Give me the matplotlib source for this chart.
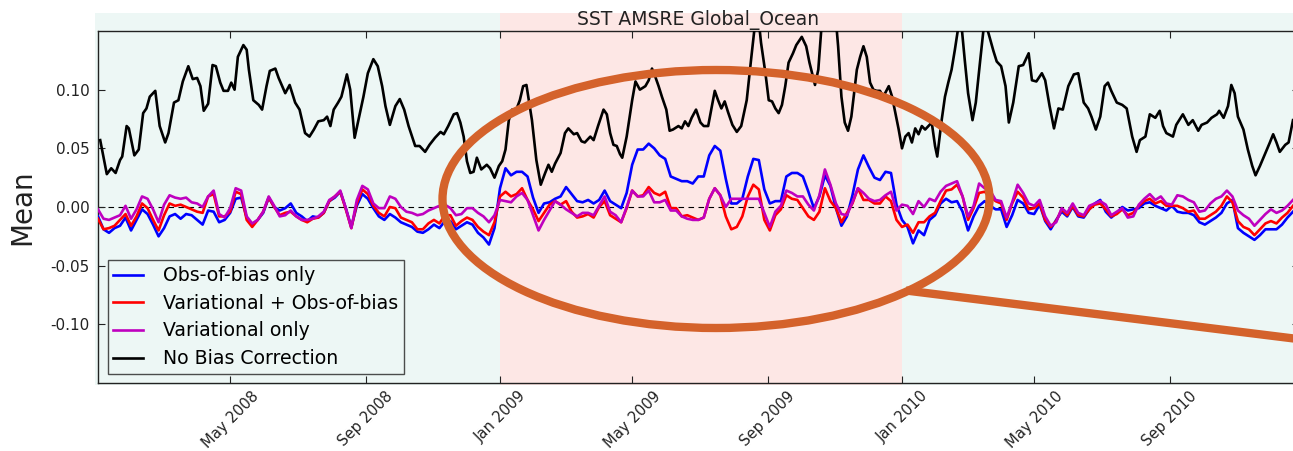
import matplotlib
matplotlib.use('Agg')
import matplotlib.pyplot as plt
import matplotlib.dates as mdates
from matplotlib.patches import Ellipse
from matplotlib.lines import Line2D
import numpy as np
import pandas as pd

# daily means, sampled every 5 days from 2008-01-02
start = pd.Timestamp('2008-01-02')

obs_bias = [
    -0.008, -0.019, -0.022, -0.018, -0.016, -0.009, -0.020, -0.011, -0.002, -0.006,
    -0.015, -0.025, -0.018, -0.008, -0.006, -0.010, -0.006, -0.007, -0.011, -0.015,
    -0.003, -0.004, -0.013, -0.011, -0.005, 0.007, 0.008, -0.009, -0.015, -0.011,
    -0.005, 0.008, 0.000, -0.003, -0.001, 0.003, -0.005, -0.008, -0.012, -0.008,
    -0.009, -0.005, 0.005, 0.008, 0.013, -0.001, -0.017, 0.001, 0.011, 0.007,
    -0.001, -0.008, -0.011, -0.006, -0.009, -0.013, -0.015, -0.017, -0.021, -0.022,
    -0.019, -0.015, -0.018, -0.012, -0.012, -0.019, -0.016, -0.013, -0.015, -0.022,
    -0.026, -0.032, -0.018, 0.016, 0.033, 0.027, 0.030,
    0.030, 0.026, 0.008, -0.005, 0.003, 0.004, 0.007, 0.009, 0.017, 0.011, 0.005, 0.004, 0.006,
    0.003, 0.006, 0.014, 0.005, 0.002, -0.001, 0.012, 0.036, 0.049, 0.049,
    0.054, 0.050, 0.044, 0.041, 0.026, 0.024, 0.022, 0.022, 0.020, 0.026,
    0.026, 0.044, 0.052, 0.048, 0.024, 0.003, 0.003, 0.007, 0.026, 0.041,
    0.040, 0.015, 0.003, 0.005, 0.005, 0.026,
    0.029, 0.029, 0.026, 0.013, -0.001, 0.009, 0.027, 0.018, -0.001, -0.016,
    -0.008, 0.010, 0.032, 0.044, 0.034, 0.025, 0.023, 0.030, 0.029, 0.002,
    -0.011, -0.017, -0.031, -0.020, -0.024, -0.011, -0.007, 0.003, 0.007, 0.004,
    0.005, -0.004, -0.020,
    -0.008, 0.001, 0.005, 0.001, -0.002, -0.002, -0.017, -0.007, 0.006, 0.003,
    -0.005, -0.006, 0.002, -0.012, -0.019, -0.011, -0.004, -0.008, 0.000, -0.008,
    -0.009, -0.002, 0.003, 0.006, -0.004, -0.009, -0.005, 0.000, -0.003, -0.002,
    -0.001, 0.003, 0.004, 0.001,
    -0.001, -0.003, 0.001, -0.004, -0.005, -0.005, -0.007, -0.013, -0.015, -0.012,
    -0.009, -0.005, 0.003, 0.006, -0.018, -0.022, -0.025, -0.028, -0.024, -0.019,
    -0.019, -0.019, -0.015, -0.009, -0.004,
]

var_obs_bias = [
    -0.010, -0.019, -0.018, -0.016, -0.011, -0.006, -0.016, -0.008, 0.003, -0.001,
    -0.011, -0.020, -0.007, 0.003, 0.001, 0.002, 0.000, -0.002, -0.004, -0.005,
    0.009, 0.011, -0.008, -0.008, -0.004, 0.013, 0.011, -0.011, -0.017, -0.011,
    -0.004, 0.008, 0.000, -0.007, -0.005, -0.004, -0.008, -0.011, -0.013, -0.010,
    -0.009, -0.005, 0.005, 0.009, 0.013, -0.002, -0.018, 0.003, 0.015, 0.011,
    0.001, -0.005, -0.008, 0.000, -0.001, -0.009, -0.011, -0.013, -0.019, -0.019,
    -0.014, -0.011, -0.014, -0.007, -0.007, -0.016, -0.012, -0.009, -0.011, -0.017,
    -0.021, -0.024, -0.013, 0.009, 0.013, 0.009, 0.011,
    0.016, 0.006, -0.002, -0.012, -0.005, 0.002, 0.005, 0.002, 0.005, -0.004, -0.009, -0.008, -0.006,
    -0.009, 0.000, 0.005, -0.007, -0.010, -0.013, -0.001, 0.014, 0.009, 0.010,
    0.017, 0.012, 0.010, 0.013, -0.001, -0.001, -0.008, -0.007, -0.009, -0.011,
    -0.009, 0.007, 0.016, 0.010, -0.008, -0.019, -0.017, -0.008, 0.009, 0.019,
    0.015, -0.011, -0.020, -0.007, -0.002, 0.010,
    0.007, 0.006, -0.001, -0.008, -0.011, -0.004, 0.016, 0.005, -0.001, -0.013,
    -0.005, 0.003, 0.016, 0.006, 0.006, 0.003, 0.003, 0.009, 0.005, -0.011,
    -0.017, -0.015, -0.022, -0.013, -0.013, -0.008, -0.005, 0.005, 0.014, 0.015,
    0.019, 0.009, -0.011,
    -0.001, 0.012, 0.013, 0.009, 0.005, 0.003, -0.011, 0.003, 0.013, 0.008,
    -0.002, -0.001, 0.003, -0.011, -0.017, -0.012, -0.002, -0.007, 0.001, -0.007,
    -0.008, -0.002, 0.002, 0.003, -0.002, -0.008, -0.006, -0.002, -0.007, -0.005,
    0.001, 0.005, 0.007, 0.003,
    0.005, 0.001, 0.001, 0.001, -0.001, -0.004, -0.003, -0.010, -0.010, -0.007,
    -0.004, 0.001, 0.009, 0.004, -0.012, -0.017, -0.019, -0.024, -0.019, -0.014,
    -0.012, -0.014, -0.009, -0.005, 0.001,
]

# nan = no analysis on that day
var_only = [
    -0.002, -0.010, -0.011, -0.009, -0.007, 0.001, -0.010, -0.002, 0.009, 0.007,
    -0.002, -0.013, 0.002, 0.010, 0.008, 0.007, 0.008, 0.004, 0.003, 0.000,
    0.009, 0.014, -0.006, -0.009, -0.001, 0.016, 0.014, -0.008, -0.014, -0.011,
    -0.004, 0.009, 0.001, -0.008, -0.007, -0.003, -0.008, -0.011, -0.011, -0.010,
    -0.008, -0.004, 0.006, 0.009, 0.014, -0.001, -0.018, 0.006, 0.018, 0.015,
    0.003, -0.001, -0.001, 0.009, 0.007, 0.000, -0.004, -0.005, -0.007, -0.006,
    -0.003, -0.001, 0.001, 0.002, -0.001, -0.007, -0.006, -0.001, -0.001, -0.005,
    -0.008, -0.013, -0.007, 0.006, 0.005, 0.004, 0.009,
    0.012, 0.006, -0.007, -0.020, -0.011, -0.003, 0.005, 0.002, -0.002, -0.005, -0.008, -0.005, -0.005,
    -0.007, 0.001, 0.009, -0.004, -0.007, -0.013, 0.000, 0.014, 0.009, 0.009,
    0.014, 0.004, 0.004, 0.006, -0.003, -0.003, -0.008, -0.010, -0.011, -0.011,
    -0.009, 0.007, 0.016, 0.010, 0.000, 0.007, np.nan, np.nan, np.nan, np.nan,
    0.007, -0.005, -0.017, -0.004, 0.001, 0.014,
    0.012, 0.009, 0.009, 0.002, -0.003, 0.010, 0.032, 0.019, 0.003, -0.006,
    -0.007, 0.004, 0.016, 0.012, 0.007, 0.005, 0.006, 0.010, 0.013, -0.003,
    0.002, 0.001, -0.006, 0.005, 0.000, 0.007, 0.005, 0.013, 0.018, 0.020,
    0.022, 0.009, -0.008,
    0.001, 0.020, 0.016, 0.014, 0.006, 0.005, -0.009, 0.004, 0.019, 0.012,
    0.003, 0.001, 0.006, -0.008, -0.016, -0.013, -0.001, -0.005, 0.003, -0.005,
    -0.007, 0.001, 0.003, 0.005, 0.002, -0.007, -0.004, -0.001, -0.009, -0.008,
    0.002, 0.007, 0.011, 0.006,
    0.009, 0.003, 0.002, 0.010, 0.009, 0.006, 0.004, -0.004, -0.003, 0.003,
    0.007, 0.009, 0.014, 0.009, -0.003, -0.007, -0.010, -0.016, -0.011, -0.006,
    -0.002, -0.005, -0.003, 0.001, 0.006,
]

# no bias correction, days after 2008-01-02
nobc_days = [
    2, 8, 12, 16, 20, 22, 26, 28, 33, 37, 41, 44, 47, 52, 56, 61, 64, 69, 73, 77,
    82, 86, 90, 93, 96, 100, 104, 107, 111, 114, 118, 121, 124, 127, 132, 135, 137, 141, 146, 149,
    153, 156, 161, 164, 170, 174, 179, 183, 188, 192, 196, 200, 205, 208, 211, 214, 218, 221, 226, 229,
    233, 236, 241, 245, 250, 254, 258, 261, 265, 270, 274, 278, 282, 288, 292, 297, 301, 306, 311, 314,
    318, 323, 326, 329, 332, 335, 338, 341, 344, 348, 353, 356, 360, 364, 367, 370, 373, 376, 379, 383,
    386, 389, 394, 398, 402, 406, 409, 412, 415, 420, 424, 427, 432, 435, 439, 442, 447, 450, 454, 459,
    462, 465, 468, 471, 474, 476, 480, 485, 488, 492, 497, 500, 503, 506, 509, 512, 516, 519, 522, 527,
    530, 533, 536, 539, 543, 547, 550, 554, 557, 560, 563, 566, 569, 572, 576, 580, 584, 589, 593, 597,
    600, 602, 606, 609, 612, 615, 618, 621, 624, 627, 631, 634, 639, 643, 646, 651, 654, 657, 660, 665,
    669, 672, 675, 678, 681, 684, 689, 692, 695, 698, 701, 704, 707, 710, 713, 718, 721, 724, 727, 730,
    733, 736, 739, 742, 745, 748, 751, 754, 757, 760, 762, 766, 769, 772, 775, 778, 783, 787, 790, 794,
    797, 801, 805, 810, 813, 816, 820, 824, 827, 831, 836, 840, 845, 848, 852, 857, 860, 864, 868, 872,
    876, 881, 886, 890, 895, 899, 902, 906, 910, 914, 917, 920, 925, 930, 934, 939, 943, 946, 951, 955,
    960, 964, 967, 970, 976, 979, 985, 990, 994, 999, 1002, 1007, 1011, 1016, 1018, 1022, 1026, 1029, 1032, 1035,
    1040, 1044, 1048, 1051, 1055, 1060, 1064, 1067, 1070, 1073, 1078, 1081, 1085,
]
nobc_vals = [
    0.057, 0.028, 0.033, 0.029, 0.040, 0.043, 0.069, 0.067, 0.044, 0.049, 0.080, 0.084, 0.094, 0.099, 0.069, 0.055, 0.063, 0.089, 0.091, 0.107,
    0.120, 0.109, 0.110, 0.103, 0.082, 0.088, 0.121, 0.120, 0.106, 0.099, 0.099, 0.106, 0.100, 0.128, 0.138, 0.134, 0.117, 0.091, 0.087, 0.083,
    0.103, 0.116, 0.118, 0.110, 0.097, 0.104, 0.089, 0.083, 0.063, 0.060, 0.066, 0.073, 0.074, 0.077, 0.069, 0.083, 0.089, 0.094, 0.113, 0.100,
    0.059, 0.072, 0.094, 0.114, 0.126, 0.120, 0.103, 0.086, 0.070, 0.086, 0.092, 0.083, 0.069, 0.052, 0.052, 0.047, 0.053, 0.059, 0.064, 0.062,
    0.069, 0.079, 0.080, 0.072, 0.060, 0.039, 0.029, 0.030, 0.042, 0.032, 0.036, 0.033, 0.025, 0.035, 0.039, 0.049, 0.074, 0.083, 0.081, 0.091,
    0.103, 0.104, 0.074, 0.040, 0.019, 0.029, 0.036, 0.030, 0.037, 0.046, 0.063, 0.067, 0.062, 0.063, 0.056, 0.055, 0.060, 0.057, 0.069, 0.083,
    0.079, 0.063, 0.053, 0.052, 0.045, 0.042, 0.060, 0.091, 0.107, 0.100, 0.103, 0.108, 0.118, 0.111, 0.103, 0.094, 0.083, 0.065, 0.066, 0.069,
    0.067, 0.073, 0.069, 0.076, 0.083, 0.072, 0.069, 0.069, 0.084, 0.099, 0.091, 0.084, 0.090, 0.081, 0.070, 0.064, 0.069, 0.091, 0.126, 0.160,
    0.158, 0.140, 0.114, 0.091, 0.090, 0.084, 0.080, 0.087, 0.103, 0.123, 0.131, 0.138, 0.145, 0.137, 0.123, 0.104, 0.117, 0.155, 0.175, 0.160,
    0.170, 0.137, 0.094, 0.072, 0.065, 0.077, 0.117, 0.128, 0.137, 0.128, 0.106, 0.100, 0.099, 0.099, 0.094, 0.103, 0.094, 0.080, 0.066, 0.050,
    0.060, 0.063, 0.055, 0.067, 0.062, 0.069, 0.066, 0.069, 0.072, 0.052, 0.043, 0.074, 0.094, 0.106, 0.117, 0.134, 0.165, 0.125, 0.097, 0.074,
    0.089, 0.125, 0.160, 0.143, 0.133, 0.124, 0.120, 0.103, 0.072, 0.089, 0.120, 0.121, 0.131, 0.108, 0.107, 0.114, 0.108, 0.086, 0.067, 0.084,
    0.083, 0.103, 0.113, 0.114, 0.089, 0.084, 0.077, 0.066, 0.077, 0.103, 0.106, 0.099, 0.089, 0.087, 0.084, 0.060, 0.047, 0.057, 0.060, 0.079,
    0.076, 0.082, 0.069, 0.063, 0.060, 0.070, 0.079, 0.070, 0.074, 0.065, 0.070, 0.072, 0.076, 0.079, 0.082, 0.076, 0.086, 0.104, 0.097, 0.077,
    0.066, 0.049, 0.035, 0.027, 0.035, 0.046, 0.055, 0.062, 0.055, 0.047, 0.053, 0.055, 0.074,
]

labels = ['Obs-of-bias only', 'Variational + Obs-of-bias', 'Variational only', 'No Bias Correction']
colors = ['#0000ff', '#ff0000', '#bf00bf', '#000000']

# highlighted periods: (from, to, colour)
periods = [
    ('2007-12-30', '2009-01-01', '#edf7f5'),
    ('2009-01-01', '2010-01-01', '#fde7e5'),
    ('2010-01-01', '2010-12-31', '#edf7f5'),
]

dates5 = pd.date_range(start, periods=len(obs_bias), freq='5D')
nobc_dates = start + pd.to_timedelta(nobc_days, unit='D')

fig = plt.figure(figsize=(12.93, 4.51), dpi=100)
ax = fig.add_axes([98 / 1293, 68 / 451, 1200.5 / 1293, 352 / 451])

for a, b, c in periods:
    ax.axvspan(pd.Timestamp(a), pd.Timestamp(b), ymin=-0.006, ymax=1.05,
               color=c, lw=0, zorder=0, clip_on=False)

ax.axhline(0, color='k', ls='--', lw=0.8, dashes=(5, 4), zorder=1)

series = [obs_bias, var_obs_bias, var_only]
for vals, lab, col in zip(series, labels[:3], colors[:3]):
    v = np.array(vals, dtype=float)
    ok = ~np.isnan(v)
    ax.plot(dates5[ok], v[ok], color=col, lw=1.9, label=lab, zorder=3)
ax.plot(nobc_dates, nobc_vals, color=colors[3], lw=1.9, label=labels[3], zorder=3)

ax.set_xlim(start, pd.Timestamp('2010-12-27'))
ax.set_ylim(-0.15, 0.15)
ax.set_yticks([-0.10, -0.05, 0.0, 0.05, 0.10])
ax.yaxis.set_major_formatter(plt.FormatStrFormatter('%.2f'))
ax.xaxis.set_major_locator(mdates.MonthLocator(bymonth=[1, 5, 9]))
ax.xaxis.set_major_formatter(mdates.DateFormatter('%b %Y'))
ax.tick_params(direction='in', top=True, right=True, length=5, width=0.8,
               pad=6, colors='#222222', labelcolor='#222222')
ax.tick_params(axis='y', labelsize=11)
ax.tick_params(axis='x', labelsize=10.6, pad=4)
for lbl in ax.get_xticklabels():
    lbl.set_rotation(45)
    lbl.set_ha('center')
for s in ax.spines.values():
    s.set_color('#222222')
    s.set_linewidth(1.0)
ax.set_facecolor('none')

ax.set_title('SST AMSRE Global_Ocean', fontsize=13.5, color='#222222', pad=4)
ax.set_ylabel('Mean', fontsize=20, color='#222222', labelpad=10)

leg = ax.legend(loc='lower left', bbox_to_anchor=(0.008, 0.026), borderaxespad=0,
                fontsize=13.6, fancybox=False, facecolor='none', edgecolor='#222222',
                handlelength=1.55, labelspacing=0.46, borderpad=0.3, handletextpad=1.1)
leg.get_frame().set_linewidth(1.0)

# annotation: ellipse around 2009 and a pointer line
fig.add_artist(Ellipse((716 / 1293, 1 - 199 / 451), 547 / 1293, 258 / 451,
                       transform=fig.transFigure, fill=False,
                       edgecolor='#d4622b', lw=6, zorder=10))
fig.add_artist(Line2D([910 / 1293, 1.01], [1 - 291 / 451, 1 - 340 / 451],
                      transform=fig.transFigure, color='#d4622b', lw=6, zorder=10))

fig.savefig('out.png', dpi=100)
